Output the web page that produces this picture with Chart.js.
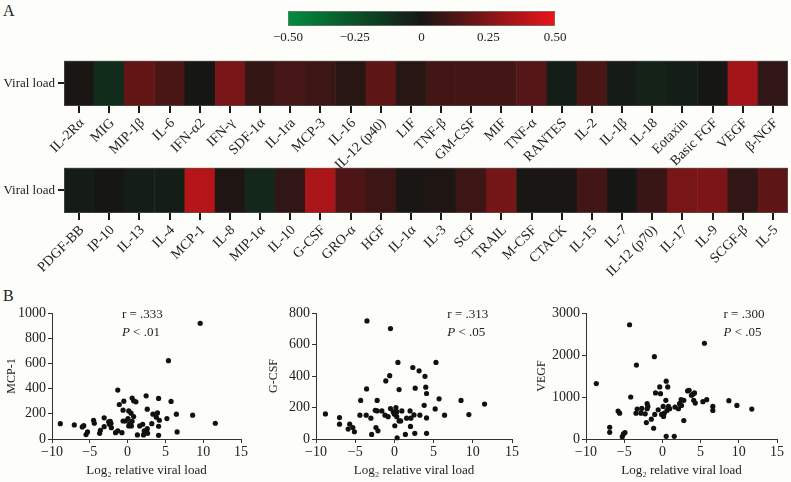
<!DOCTYPE html>
<html><head><meta charset="utf-8">
<script src="https://cdn.jsdelivr.net/npm/chart.js@4.4.1/dist/chart.umd.min.js"></script>
<style>
html,body{margin:0;padding:0;background:#fdfdf9;}
body{width:791px;height:482px;position:relative;overflow:hidden;font-family:'Liberation Serif','DejaVu Serif',serif;}
canvas{position:absolute;}
.panel{position:absolute;font-size:16px;color:#222;line-height:16px;}
</style></head><body>
<div class="panel" style="left:3px;top:3px">A</div>
<div class="panel" style="left:3px;top:288px">B</div>
<canvas id="cbar" width="340" height="50" style="left:250px;top:0px;width:340px;height:50px"></canvas>
<canvas id="heat1" width="791" height="125" style="left:0px;top:50px;width:791px;height:125px"></canvas>
<canvas id="heat2" width="791" height="130" style="left:0px;top:157px;width:791px;height:130px"></canvas>
<canvas id="sc1" width="260" height="187" style="left:0px;top:295px;width:260px;height:187px"></canvas>
<canvas id="sc2" width="260" height="187" style="left:262px;top:295px;width:260px;height:187px"></canvas>
<canvas id="sc3" width="261" height="187" style="left:530px;top:295px;width:261px;height:187px"></canvas>
<script>
// ---------------- DATA ----------------
const rowName = 'Viral load';
const colorbarTicks = [-0.5, -0.25, 0, 0.25, 0.5];

const row1Labels = ['IL-2Rα','MIG','MIP-1β','IL-6','IFN-α2','IFN-γ','SDF-1α','IL-1ra','MCP-3','IL-16','IL-12 (p40)','LIF','TNF-β','GM-CSF','MIF','TNF-α','RANTES','IL-2','IL-1β','IL-18','Eotaxin','Basic FGF','VEGF','β-NGF'];
const row1Values = [0.01,-0.09,0.18,0.12,0.00,0.23,0.07,0.11,0.09,0.04,0.17,0.04,0.10,0.10,0.10,0.15,-0.03,0.12,-0.02,-0.05,-0.03,0.00,0.33,0.06];

const row2Labels = ['PDGF-BB','IP-10','IL-13','IL-4','MCP-1','IL-8','MIP-1α','IL-10','G-CSF','GRO-α','HGF','IL-1α','IL-3','SCF','TRAIL','M-CSF','CTACK','IL-15','IL-7','IL-12 (p70)','IL-17','IL-9','SCGF-β','IL-5'];
const row2Values = [-0.02,0.00,-0.03,-0.03,0.37,0.02,-0.07,0.06,0.35,0.13,0.09,0.01,0.02,0.09,0.22,0.01,0.01,0.10,0.00,0.08,0.23,0.24,0.06,0.17];

const xTitle = 'Log₂ relative viral load';
const xTicks = [-10, -5, 0, 5, 10, 15];

const mcp1Points = [[-8.9,122],[-7.05,112],[-6.0,96],[-5.8,106],[-5.3,56],[-5.5,35],[-4.5,149],[-4.4,125],[-3.7,45],[-3.6,69],[-3.1,168],[-3.1,98],[-2.5,136],[-2.3,141],[-2.4,117],[-2.15,90],[-2.2,125],[-1.6,50],[-1.3,64],[-1.3,388],[-1.1,274],[-0.75,50],[-0.5,300],[-0.6,229],[-0.6,143],[-0.3,143],[0.05,162],[0.15,104],[0.3,125],[0.15,223],[0.45,205],[0.6,325],[0.8,303],[0.5,104],[0.6,141],[0.8,178],[1.3,32],[1.6,104],[2.0,117],[2.1,32],[2.2,64],[1.1,295],[2.45,343],[2.6,237],[2.6,82],[2.65,45],[3.2,122],[3.35,197],[3.8,173],[3.95,207],[4.1,101],[4.1,29],[4.1,322],[4.2,149],[5.2,162],[5.4,622],[5.75,298],[6.45,197],[6.55,56],[8.6,189],[9.6,918],[11.6,125]];
const gcsfPoints = [[-8.8,159],[-7.0,136],[-7.0,94],[-5.9,63],[-5.7,94],[-5.3,73],[-5.1,46],[-4.4,151],[-4.3,245],[-3.6,151],[-3.55,318],[-3.5,750],[-3.0,132],[-2.9,29],[-2.45,182],[-2.35,73],[-2.2,245],[-2.2,178],[-2.1,52],[-1.6,178],[-1.2,151],[-1.1,369],[-0.8,142],[-0.6,402],[-0.5,701],[-0.5,193],[-0.15,172],[0.0,157],[0.05,84],[0.2,199],[0.3,172],[0.3,142],[0.35,8],[0.45,486],[0.6,314],[0.6,115],[0.8,115],[0.95,178],[1.4,29],[1.55,132],[2.0,178],[2.05,80],[2.1,132],[2.35,454],[2.5,153],[2.6,36],[2.65,323],[3.15,433],[3.25,151],[3.8,214],[3.9,398],[4.0,329],[4.1,289],[4.1,134],[4.1,36],[5.2,191],[5.3,486],[5.7,255],[6.4,151],[8.5,245],[9.5,155],[11.5,222]];
const vegfPoints = [[-8.65,1320],[-6.9,280],[-6.9,160],[-5.8,664],[-5.6,616],[-5.25,56],[-5.1,120],[-4.9,152],[-4.3,2720],[-4.15,1000],[-3.45,616],[-3.3,712],[-3.4,1760],[-2.8,616],[-2.7,728],[-2.25,600],[-2.1,392],[-2.0,840],[-2.0,720],[-1.9,776],[-1.45,472],[-1.15,256],[-1.0,584],[-1.05,1960],[-0.9,1096],[-0.55,696],[-0.35,1240],[-0.25,1080],[-0.1,584],[0.1,776],[0.15,536],[0.25,616],[0.45,920],[0.5,64],[0.5,1376],[0.7,1240],[0.6,680],[0.8,776],[0.95,720],[1.55,64],[1.65,760],[2.1,720],[2.25,840],[2.45,936],[2.5,800],[2.8,440],[2.8,920],[3.3,1144],[3.5,1160],[3.8,1040],[4.0,1064],[4.2,1096],[4.1,920],[4.3,856],[5.3,888],[5.5,2280],[5.8,936],[6.6,776],[6.6,680],[8.7,912],[9.75,800],[11.7,712]];

const mcp1YTicks = [0,200,400,600,800,1000];
const gcsfYTicks = [0,200,400,600,800];
const vegfYTicks = [0,1000,2000,3000];

const mcp1Stats = ['r = .333', '< .01'];
const gcsfStats = ['r = .313', '< .05'];
const vegfStats = ['r = .300', '< .05'];

// ---------------- STYLE ----------------
const FONT = "'Liberation Serif','DejaVu Serif',serif";
Chart.defaults.font.family = FONT;
Chart.defaults.font.size = 13;
Chart.defaults.color = '#222';
const CMAP = [[-0.5,[0,142,62]],[0,[22,22,20]],[0.5,[235,20,26]]];
function cmap(v){
  v = Math.max(-0.5, Math.min(0.5, v));
  for (let i=0;i<CMAP.length-1;i++){
    const [a,ca]=CMAP[i],[b,cb]=CMAP[i+1];
    if (v>=a && v<=b){
      const t=(v-a)/(b-a);
      const c=ca.map((x,k)=>Math.round(x+(cb[k]-x)*t));
      return `rgb(${c[0]},${c[1]},${c[2]})`;
    }
  }
  return 'black';
}
function fmt(v){ return v<0 ? '\u2212'+Math.abs(v) : String(v); }
function fmt2(v){ return v===0 ? '0' : (v<0?'\u2212':'')+Math.abs(v).toFixed(2); }

// ---------------- COLOR BAR ----------------
new Chart(document.getElementById('cbar'), {
  type:'bar',
  data:{labels:['scale'], datasets:[{
    data:[[colorbarTicks[0], colorbarTicks[colorbarTicks.length-1]]],
    backgroundColor:(ctx)=>{
      const ch=ctx.chart, ca=ch.chartArea; if(!ca) return 'black';
      const g=ch.ctx.createLinearGradient(ca.left,0,ca.right,0);
      for(let i=0;i<=20;i++){ g.addColorStop(i/20, cmap(-0.5+i/20)); }
      return g;
    },
    borderColor:'#777', borderWidth:1, borderSkipped:false,
    barPercentage:1, categoryPercentage:1
  }]},
  options:{
    indexAxis:'y', responsive:false, animation:false,
    layout:{padding:{left:38,right:35,top:11,bottom:4}},
    plugins:{legend:{display:false},tooltip:{enabled:false}},
    scales:{
      y:{display:false},
      x:{type:'linear', min:-0.5, max:0.5, z:1,
        afterBuildTicks:(s)=>{ s.ticks = colorbarTicks.map(v=>({value:v})); },
        ticks:{callback:(v)=>fmt2(v), padding:4, font:{size:13}},
        grid:{drawTicks:false, drawOnChartArea:true, lineWidth:1,
          color:(c)=> (c.tick && Math.abs(Math.abs(c.tick.value)-0.25)<1e-6) ? 'rgba(0,0,0,0.55)' : 'rgba(0,0,0,0)'},
        border:{display:false, dash:[2,1]},
        afterFit:(s)=>{ s.height = 20; }
      }
    }
  }
});

// ---------------- HEATMAP ROWS ----------------
const heatBorder = {
  id:'heatBorder',
  afterDatasetsDraw(ch){
    const {ctx, chartArea:a}=ch; ctx.save(); ctx.strokeStyle='rgba(90,90,90,0.6)'; ctx.lineWidth=1;
    ctx.strokeRect(a.left+0.5,a.top+0.5,a.width-1,a.height-1); ctx.restore();
  }
};
// category labels of the x scale, written at exactly 45 degrees at the scale's tick pixels
const rotLabels = {
  id:'rotLabels',
  afterDraw(ch){
    const s = ch.scales.x, ctx = ch.ctx;
    ctx.save(); ctx.font = `14px ${FONT}`; ctx.fillStyle = '#222';
    ctx.textAlign = 'right'; ctx.textBaseline = 'middle';
    s.getLabels().forEach((lab, i) => {
      const x = s.getPixelForTick(i), y = s.top + 15;
      ctx.save(); ctx.translate(x + 3, y); ctx.rotate(-Math.PI/4); ctx.fillText(lab, 0, 0); ctx.restore();
    });
    ctx.restore();
  }
};
function makeHeat(id, labels, values, axisH){
  new Chart(document.getElementById(id), {
    type:'bar',
    data:{labels, datasets:[{
      data: values.map(()=>1),
      backgroundColor: values.map(cmap),
      borderColor: values.map(cmap), borderWidth:0.6,
      barPercentage:1, categoryPercentage:1
    }]},
    options:{
      responsive:false, animation:false,
      layout:{padding:{left:0,right:3,top:8,bottom:0}},
      plugins:{legend:{display:false},tooltip:{enabled:false}},
      scales:{
        x:{type:'category', offset:true,
          grid:{display:true, drawOnChartArea:false, drawTicks:true, tickLength:7, lineWidth:2, color:'#1a1a1a', offset:false},
          border:{display:false},
          ticks:{display:false, autoSkip:false},
          afterFit:(s)=>{ s.height = axisH; }
        },
        y:{type:'linear', min:0, max:1,
          afterBuildTicks:(s)=>{ s.ticks=[{value:0.5}]; },
          ticks:{callback:()=>rowName, padding:3, font:{size:13}},
          grid:{display:true, drawOnChartArea:false, drawTicks:true, tickLength:6, lineWidth:2, color:'#1a1a1a'},
          border:{display:false},
          afterFit:(s)=>{ s.width = 64; }
        }
      }
    },
    plugins:[heatBorder, rotLabels]
  });
}
makeHeat('heat1', row1Labels, row1Values, 69);
makeHeat('heat2', row2Labels, row2Values, 74);

// ---------------- SCATTERS ----------------
const statsPlugin = {
  id:'stats',
  afterDraw(ch, args, opts){
    const {ctx, chartArea:a}=ch; const x=a.left+opts.fx*a.width;
    ctx.save(); ctx.fillStyle='#222'; ctx.textBaseline='middle'; ctx.textAlign='left';
    ctx.font = `13px ${FONT}`;
    ctx.fillText(opts.lines[0], x, a.top+2);
    ctx.font = `italic 13px ${FONT}`;
    ctx.fillText('P', x, a.top+20);
    const w = ctx.measureText('P').width;
    ctx.font = `13px ${FONT}`;
    ctx.fillText(' '+opts.lines[1], x+w, a.top+20);
    ctx.restore();
  }
};
function makeScatter(id, pts, yTicks, yTitle, lines, fx, yW, padR){
  new Chart(document.getElementById(id), {
    type:'scatter',
    data:{datasets:[{data: pts.map(([x,y])=>({x,y})), pointRadius:2.6, pointBackgroundColor:'#111', pointBorderWidth:0, clip:false}]},
    options:{
      responsive:false, animation:false,
      layout:{padding:{left:0,right:padR,top:18,bottom:0}},
      plugins:{legend:{display:false},tooltip:{enabled:false}, stats:{lines, fx}},
      scales:{
        x:{type:'linear', min:xTicks[0], max:xTicks[xTicks.length-1],
          afterBuildTicks:(s)=>{ s.ticks = xTicks.map(v=>({value:v})); },
          ticks:{callback:(v)=>fmt(v), padding:1, font:{size:14}},
          grid:{display:true, drawOnChartArea:false, drawTicks:true, tickLength:4, color:'#333', lineWidth:1},
          border:{display:true, color:'#333', width:1},
          title:{display:true, text:xTitle, font:{size:13}, padding:{top:2,bottom:4}},
          afterFit:(s)=>{ s.height = 43; }
        },
        y:{type:'linear', min:yTicks[0], max:yTicks[yTicks.length-1],
          afterBuildTicks:(s)=>{ s.ticks = yTicks.map(v=>({value:v})); },
          ticks:{callback:(v)=>String(v), padding:2, font:{size:14}},
          grid:{display:true, drawOnChartArea:false, drawTicks:true, tickLength:4, color:'#333', lineWidth:1},
          border:{display:true, color:'#333', width:1},
          title:{display:true, text:yTitle, font:{size:12}, padding:{top:5,bottom:2}},
          afterFit:(s)=>{ s.width = yW; }
        }
      }
    },
    plugins:[statsPlugin]
  });
}
makeScatter('sc1', mcp1Points, mcp1YTicks, 'MCP-1', mcp1Stats, 0.37, 52, 19);
makeScatter('sc2', gcsfPoints, gcsfYTicks, 'G-CSF', gcsfStats, 0.67, 54, 10);
makeScatter('sc3', vegfPoints, vegfYTicks, 'VEGF', vegfStats, 0.72, 56, 14);
</script>
</body></html>
